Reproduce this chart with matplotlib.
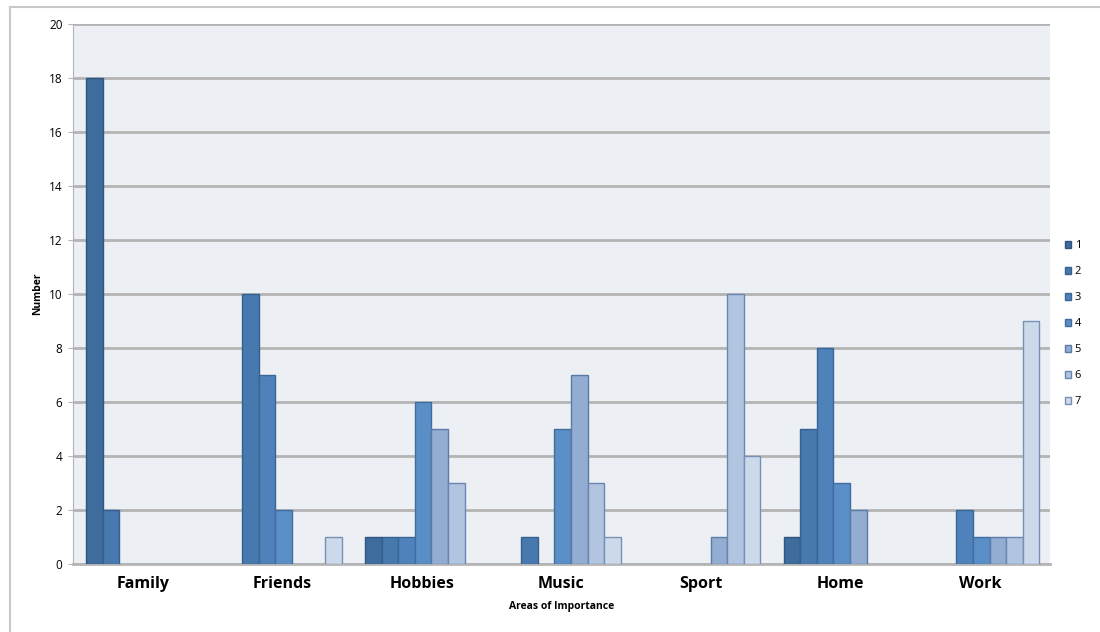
import matplotlib
matplotlib.use("Agg")
from matplotlib import pyplot as plt
from matplotlib.lines import Line2D
import numpy as np

plt.rcParams['font.family'] = ['Open Sans', 'DejaVu Sans']

areas = ['Family', 'Friends', 'Hobbies', 'Music', 'Sport', 'Home', 'Work']
ranks = ['1', '2', '3', '4', '5', '6', '7']

# one list per rank, values in the order of areas
rank1 = [18, 0, 1, 0, 0, 1, 0]
rank2 = [2, 10, 1, 1, 0, 5, 0]
rank3 = [0, 7, 1, 0, 0, 8, 2]
rank4 = [0, 2, 6, 5, 0, 3, 1]
rank5 = [0, 0, 5, 7, 1, 2, 1]
rank6 = [0, 0, 3, 3, 10, 0, 1]
rank7 = [0, 1, 0, 1, 4, 0, 9]
series = [rank1, rank2, rank3, rank4, rank5, rank6, rank7]

colors = ['#3e6c9c', '#4778ae', '#4f82bb', '#5a8ec6',
          '#92acd2', '#b2c5e0', '#ccd9ea']
edges = ['#2f5580', '#355f8e', '#3a6697', '#406c9e',
         '#5c7aa6', '#6a86ae', '#7890b4']

fig = plt.figure(figsize=(11, 6.32), dpi=100)
ax = fig.add_axes([0.0664, 0.1076, 0.888, 0.855])
ax.set_facecolor('#ecf0f5')

# light frame on top and left of the page
fig.add_artist(Line2D([0.0095, 1.0], [0.989, 0.989], color='#c8c8c8', lw=1.5))
fig.add_artist(Line2D([0.0095, 0.0095], [0.0, 0.989], color='#c8c8c8', lw=1.5))

x = np.arange(len(areas)) + 0.009
w = 0.119
for i, vals in enumerate(series):
    vals = np.array(vals)
    keep = vals > 0   # empty slots get no outline
    ax.bar(x[keep] + (i - 3) * w, vals[keep], width=w, color=colors[i],
           edgecolor=edges[i], linewidth=1.0, zorder=3)
    ax.bar([np.nan], [np.nan], width=w, color=colors[i],
           edgecolor=edges[i], linewidth=1.0, label=ranks[i])

ax.set_xlim(-0.5, 6.5)
ax.set_ylim(0, 20)
ax.set_yticks(range(0, 21, 2))
ax.yaxis.grid(True, color='#b4b4b4', lw=2.0, zorder=1)
ax.set_axisbelow(True)

for s in ['top', 'right']:
    ax.spines[s].set_visible(False)
ax.spines['left'].set_color('#b4b4b4')
ax.spines['bottom'].set_color('#b4b4b4')
ax.spines['bottom'].set_linewidth(2.0)

ax.set_xticks(np.arange(len(areas)))
ax.set_xticklabels(areas, fontsize=11.5, fontweight='bold')
ax.tick_params(axis='x', length=0, pad=9)
ax.tick_params(axis='y', length=3.5, color='#b4b4b4', labelsize=8.5, pad=4)

ax.set_xlabel('Areas of Importance', fontsize=7.5, fontweight='bold', labelpad=6)
ax.set_ylabel('Number', fontsize=7.5, fontweight='bold', labelpad=4)

ax.legend(loc='center left', bbox_to_anchor=(1.005, 0.445), frameon=False,
          fontsize=8, handlelength=0.6, handleheight=0.6, handletextpad=0.3,
          labelspacing=1.35)

fig.savefig('out.png', dpi=100)
